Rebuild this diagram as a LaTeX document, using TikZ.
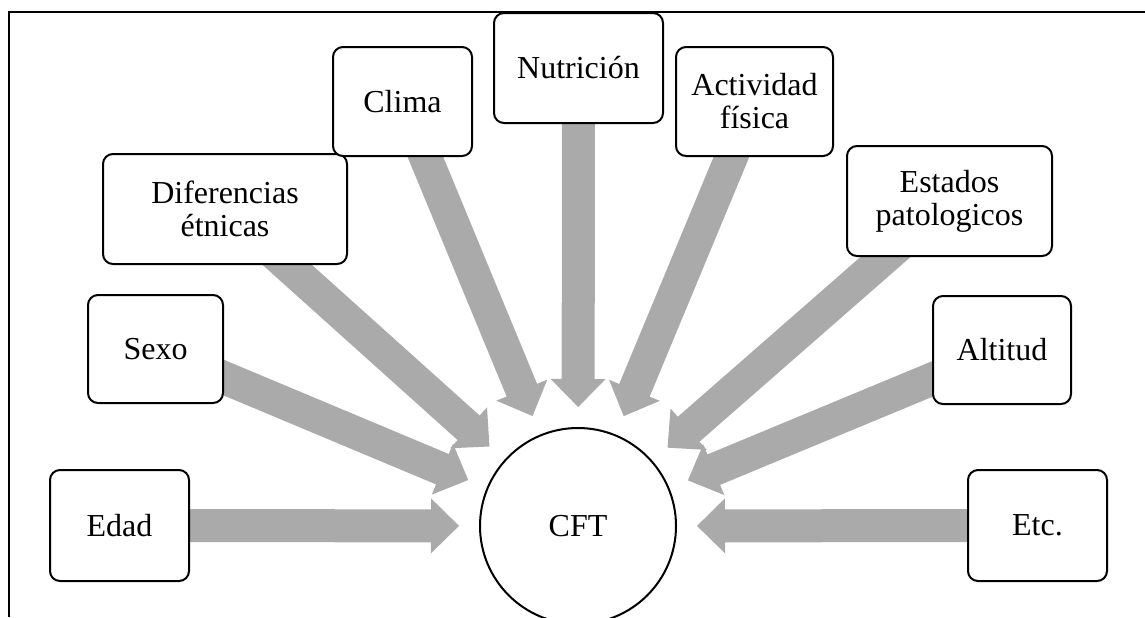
\documentclass[tikz,border=0pt]{standalone}
\usepackage{fontspec}
\setmainfont{Liberation Serif}
\usetikzlibrary{calc}
\pgfdeclarelayer{background}
\pgfsetlayers{background,main}
\definecolor{arrowgray}{RGB}{170,170,170}

% wide block arrow from the centre of a node (#1) to a tip coordinate (#2)
\newcommand\blockarrow[2]{%
  \coordinate (ba-h) at ($(#2)!14pt!(#1)$);
  \fill[arrowgray]
    ($(#1)!8.25pt!90:(#2)$) -- ($(ba-h)!8.25pt!-90:(#1)$)
    -- ($(ba-h)!13.75pt!-90:(#1)$) -- (#2)
    -- ($(ba-h)!13.75pt!90:(#1)$) -- ($(ba-h)!8.25pt!90:(#1)$)
    -- ($(#1)!8.25pt!-90:(#2)$) -- cycle;}

\tikzset{
  factor/.style={draw, line width=1pt, rounded corners=5pt, fill=white,
    inner sep=0pt, align=center,
    font=\fontsize{16pt}{16.5pt}\selectfont},
  hub/.style={draw, circle, line width=1pt, fill=white, inner sep=0pt,
    minimum size=98pt, font=\fontsize{16pt}{16.5pt}\selectfont},
}

\begin{document}
\begin{tikzpicture}[x=0.5pt, y=-0.5pt]
\useasboundingbox (0,0) rectangle (1145,617);

% frame
\draw[line width=0.7pt] (9,617) -- (9,12) -- (1145,12);

% centre
\node[hub] (cft) at (578,526) {CFT};

% surrounding factors
\node[factor, minimum width=69.5pt, minimum height=55.5pt] (edad) at (119.5,525.5) {Edad};
\node[factor, minimum width=67.5pt, minimum height=54pt] (sexo) at (155.5,349) {Sexo};
\node[factor, minimum width=122pt, minimum height=55pt] (dif) at (225,209) {Diferencias\\étnicas};
\node[factor, minimum width=69.5pt, minimum height=54.5pt] (clima) at (402.5,101.5) {Clima};
\node[factor, minimum width=84.5pt, minimum height=55pt] (nutri) at (578.5,68) {Nutrición};
\node[factor, minimum width=78.5pt, minimum height=54.5pt] (activ) at (754.5,101.5) {Actividad\\física};
\node[factor, minimum width=102.5pt, minimum height=55pt] (estados) at (949.5,201) {Estados\\patologicos};
\node[factor, minimum width=69pt, minimum height=54pt] (alti) at (1002,350) {Altitud};
\node[factor, minimum width=69.5pt, minimum height=55.5pt] (etc) at (1037.5,525.5) {Etc.};

% arrow tips on a ring around the centre
\foreach \n in {edad,sexo,dif,clima,nutri,activ,estados,alti,etc}
  \coordinate (t-\n) at ($(cft.center)!59.5pt!(\n.center)$);

\begin{pgfonlayer}{background}
  \foreach \n in {edad,sexo,dif,clima,nutri,activ,estados,alti,etc}
    \blockarrow{\n}{t-\n};
\end{pgfonlayer}
\end{tikzpicture}
\end{document}
